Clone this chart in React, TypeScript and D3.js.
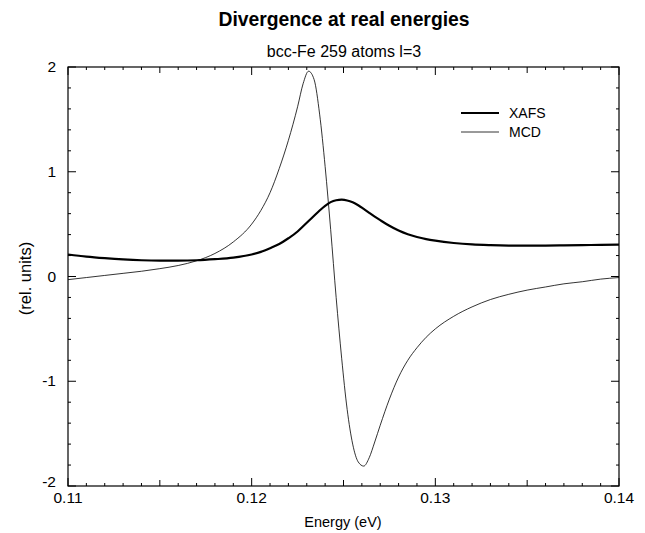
import React from "react";
import * as d3 from "d3";

const energies = [0.110, 0.111, 0.112, 0.113, 0.114, 0.115, 0.116, 0.117, 0.118, 0.119, 0.120, 0.1205, 0.121, 0.1215, 0.122, 0.1225, 0.1228, 0.1231, 0.1234, 0.1237, 0.124, 0.1243, 0.1246, 0.1249, 0.1252, 0.1255, 0.1258, 0.1261, 0.1264, 0.1267, 0.127, 0.1275, 0.128, 0.1285, 0.129, 0.1295, 0.130, 0.131, 0.132, 0.133, 0.134, 0.135, 0.136, 0.137, 0.138, 0.139, 0.140];

const xafs = [0.21, 0.19, 0.175, 0.163, 0.155, 0.152, 0.152, 0.155, 0.165, 0.18, 0.21, 0.235, 0.27, 0.31, 0.365, 0.43, 0.48, 0.53, 0.58, 0.63, 0.675, 0.71, 0.728, 0.733, 0.726, 0.708, 0.68, 0.645, 0.608, 0.572, 0.538, 0.484, 0.438, 0.403, 0.377, 0.357, 0.342, 0.32, 0.306, 0.299, 0.295, 0.294, 0.295, 0.297, 0.3, 0.302, 0.305];

const mcd = [-0.03, -0.01, 0.01, 0.03, 0.05, 0.075, 0.105, 0.15, 0.22, 0.33, 0.5, 0.63, 0.8, 1.03, 1.3, 1.62, 1.84, 1.96, 1.88, 1.55, 1.05, 0.45, -0.2, -0.78, -1.27, -1.6, -1.77, -1.81, -1.73, -1.58, -1.42, -1.17, -0.96, -0.8, -0.68, -0.58, -0.5, -0.38, -0.29, -0.22, -0.17, -0.13, -0.1, -0.07, -0.05, -0.025, -0.01];

const xTicks = [0.11, 0.12, 0.13, 0.14];
const yTicks = [-2, -1, 0, 1, 2];

const W = 645, H = 533;
const L = 68, R = 619, T = 67, B = 486;
const FONT = "'Liberation Sans', Arial, Helvetica, sans-serif";

export default function App() {
  const x = d3.scaleLinear().domain([0.11, 0.14]).range([L, R]);
  const y = d3.scaleLinear().domain([-2, 2]).range([B, T]);

  const line = (vals: number[]) =>
    d3.line<number>()
      .x((_, i) => x(energies[i]))
      .y((d) => y(d))
      .curve(d3.curveMonotoneX)(vals) || "";

  const xMinor = d3.range(0, 31).map((i) => 0.11 + i * 0.001);
  const yMinor = d3.range(0, 21).map((i) => -2 + i * 0.2);

  return (
    <svg width={W} height={H} style={{ position: "absolute", left: 0, top: 0, background: "#fff" }} fontFamily={FONT}>
      <rect x={0} y={0} width={W} height={H} fill="#fff" />
      <text x={344} y={26} textAnchor="middle" fontSize={21} fontWeight="bold" fill="#000" textLength={251} lengthAdjust="spacingAndGlyphs">Divergence at real energies</text>
      <text x={344} y={57} textAnchor="middle" fontSize={16} fill="#000">bcc-Fe 259 atoms l=3</text>

      {/* ticks */}
      {xMinor.map((v, i) => {
        const len = i % 10 === 0 ? 0 : i % 5 === 0 ? 6 : 3;
        const px = x(v);
        return (
          <g key={"xt" + i} stroke="#000" strokeWidth={1}>
            <line x1={px} x2={px} y1={B} y2={B - len} />
            <line x1={px} x2={px} y1={T} y2={T + len} />
          </g>
        );
      })}
      {xTicks.map((v, i) => (
        <g key={"xM" + i} stroke="#000" strokeWidth={1}>
          <line x1={x(v)} x2={x(v)} y1={B} y2={B - 8} />
          <line x1={x(v)} x2={x(v)} y1={T} y2={T + 8} />
        </g>
      ))}
      {yMinor.map((v, i) => {
        const len = i % 5 === 0 ? 8 : 3;
        const py = y(v);
        return (
          <g key={"yt" + i} stroke="#000" strokeWidth={1}>
            <line x1={L} x2={L + len} y1={py} y2={py} />
            <line x1={R} x2={R - len} y1={py} y2={py} />
          </g>
        );
      })}

      <rect x={L} y={T} width={R - L} height={B - T} fill="none" stroke="#000" strokeWidth={1.2} />

      {xTicks.map((v, i) => (
        <text key={"xl" + i} x={x(v)} y={503} textAnchor="middle" fontSize={15.5} fill="#000">{v.toFixed(2)}</text>
      ))}
      {yTicks.map((v, i) => (
        <text key={"yl" + i} x={56} y={v === -2 ? y(v) + 1 : y(v) + 5} textAnchor="end" fontSize={15.5} fill="#000">{v}</text>
      ))}

      <text x={343} y={527} textAnchor="middle" fontSize={14.5} fill="#000">Energy (eV)</text>
      <text transform={`translate(31,${(T + B) / 2 + 2}) rotate(-90)`} textAnchor="middle" fontSize={16.5} fill="#000">(rel. units)</text>

      <path d={line(mcd)} fill="none" stroke="#000" strokeWidth={0.8} />
      <path d={line(xafs)} fill="none" stroke="#000" strokeWidth={2.2} />

      {/* legend */}
      <line x1={461} x2={499} y1={113} y2={113} stroke="#000" strokeWidth={2.2} />
      <text x={509} y={118} fontSize={14} fill="#000">XAFS</text>
      <line x1={461} x2={499} y1={132} y2={132} stroke="#000" strokeWidth={0.8} />
      <text x={509} y={137} fontSize={14} fill="#000">MCD</text>
    </svg>
  );
}
